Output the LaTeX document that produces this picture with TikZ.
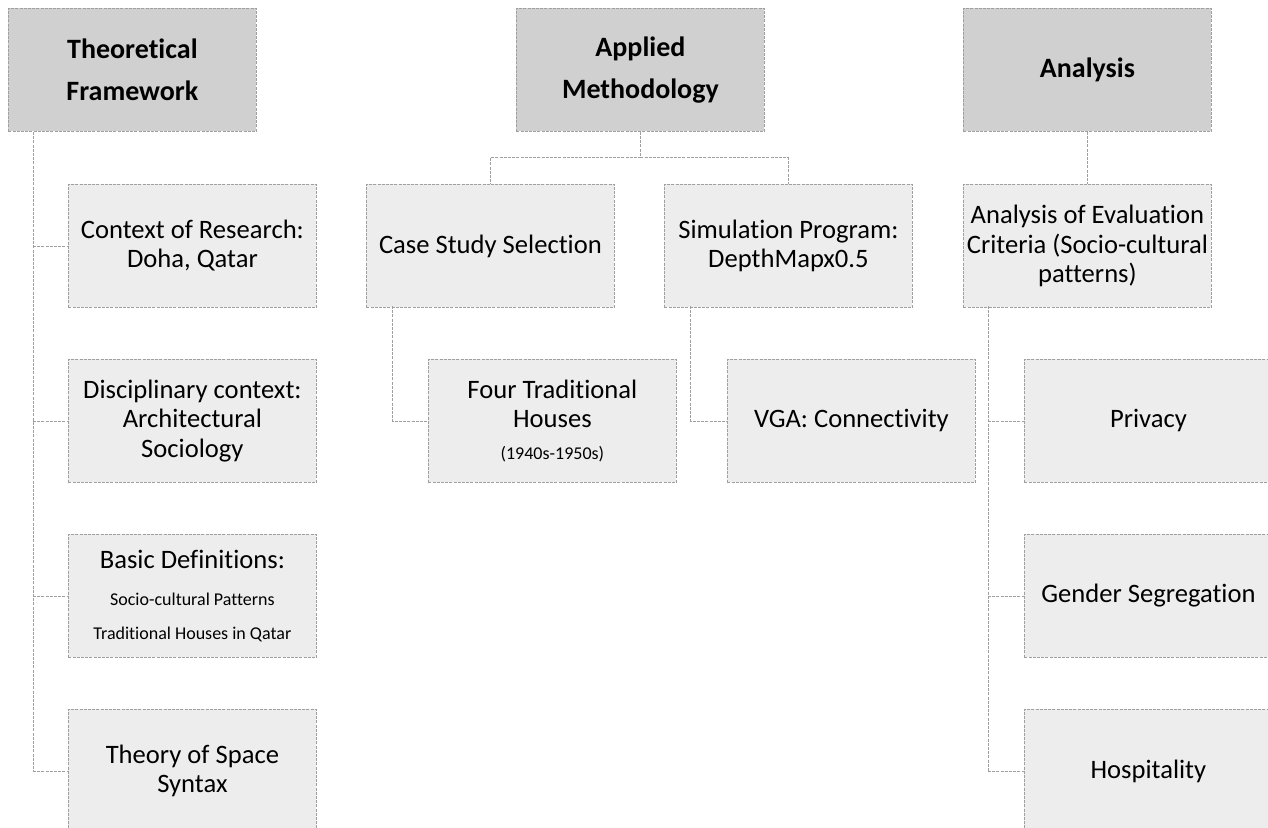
\documentclass[tikz,border=0pt]{standalone}
\usepackage{fontspec}
\setmainfont{Carlito}[Ligatures=NoCommon]
\usetikzlibrary{positioning}

\newcommand{\smalltxt}{\fontsize{9}{11}\selectfont}

\tikzset{
  box/.style={draw=gray!75, dash pattern=on 1.5pt off 0.6pt, line width=0.4pt,
    fill=gray!14, minimum width=124pt, minimum height=61.5pt, inner sep=1pt,
    align=center, anchor=north west, font=\fontsize{13.3}{14.6}\selectfont},
  head/.style={box, fill=gray!37, font=\fontsize{14}{21}\selectfont\bfseries},
  link/.style={draw=gray!75, dash pattern=on 1.5pt off 0.6pt, line width=0.4pt}
}

\begin{document}
\begin{tikzpicture}[x=0.5pt, y=-0.5pt]
  \useasboundingbox (0,0) rectangle (1268,827);
  \clip (0,0) rectangle (1268,827);

  % headers
  \node[head] at (8,8) (tf) {Theoretical\\Framework};
  \node[head] at (516,8) (am) {Applied\\Methodology};
  \node[head] at (963,8) (an) {Analysis};

  % theoretical framework
  \node[box] at (68,184) (ctx) {Context of Research:\\Doha, Qatar};
  \node[box] at (68,359) (disc) {Disciplinary context:\\Architectural\\Sociology};
  \node[box] at (68,534) (defs) {Basic Definitions:\\[4pt]{\smalltxt Socio-cultural Patterns}\\[2pt]{\smalltxt Traditional Houses in Qatar}};
  \node[box] at (68,709) (sst) {Theory of Space\\Syntax};

  \coordinate (tfl) at (33,132);
  \draw[link] (tfl) -- (tfl |- sst.west);
  \foreach \n in {ctx,disc,defs,sst}
    \draw[link] (tfl |- \n.west) -- (\n.west);

  % applied methodology
  \node[box] at (366,184) (css) {Case Study Selection};
  \node[box] at (664,184) (sim) {Simulation Program:\\DepthMapx0.5};
  \node[box] at (428,359) (fth) {Four Traditional\\Houses\\[1.5pt]{\smalltxt (1940s-1950s)}};
  \node[box] at (727,359) (vga) {VGA: Connectivity};

  \path (am.south) ++(0,26) coordinate (amj);
  \draw[link] (am.south) -- (amj) -| (css.north);
  \draw[link] (amj) -| (sim.north);
  \coordinate (cssl) at (392,306);
  \draw[link] (cssl) |- (fth.west);
  \coordinate (siml) at (690,306);
  \draw[link] (siml) |- (vga.west);

  % analysis
  \node[box] at (963,184) (eval) {Analysis of Evaluation\\Criteria (Socio-cultural\\patterns)};
  \node[box] at (1024,359) (priv) {Privacy};
  \node[box] at (1024,534) (gend) {Gender Segregation};
  \node[box] at (1024,709) (hosp) {Hospitality};

  \draw[link] (an.south) -- (eval.north);
  \coordinate (evl) at (988,306);
  \draw[link] (evl) -- (evl |- hosp.west);
  \foreach \n in {priv,gend,hosp}
    \draw[link] (evl |- \n.west) -- (\n.west);
\end{tikzpicture}
\end{document}
